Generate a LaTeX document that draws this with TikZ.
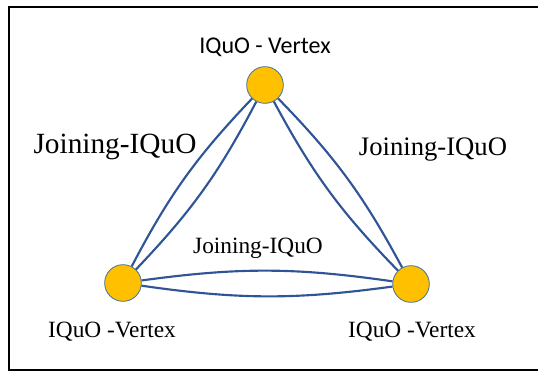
\documentclass[tikz,border=0pt]{standalone}
\usepackage{fontspec}
\setmainfont{Liberation Serif}
\newfontfamily\calibrifont{Carlito}
\usepackage{tikz}
\definecolor{vertexgold}{RGB}{255,192,0}
\definecolor{vertexrim}{RGB}{65,113,156}
\definecolor{jointblue}{RGB}{47,85,151}

\begin{document}
\begin{tikzpicture}[x=0.75pt,y=-0.75pt,
  vertex/.style={circle,draw=vertexrim,line width=0.6pt,fill=vertexgold,minimum size=27.5pt,inner sep=0pt},
  joint/.style={draw=jointblue,line width=1.6pt},
  lbl/.style={anchor=base,inner sep=0pt}]
\useasboundingbox (0,0) rectangle (538,372);
\draw[line width=1.6pt] (538,7) -- (9,7) -- (9,370) -- (538,370);

\node[vertex] (top) at (265,85) {};
\node[vertex] (bl) at (123,283) {};
\node[vertex] (br) at (411,284) {};

\foreach \a/\b in {top/bl,bl/br,br/top} {
 \draw[joint] (\a) to[bend left=8] (\b);
 \draw[joint] (\a) to[bend right=8] (\b);
}

\node[lbl] (ttop) at (265,53) {\calibrifont\fontsize{18}{20}\selectfont IQuO - Vertex};
\node[lbl] (tbl) at (112,337) {\fontsize{17.5}{20}\selectfont IQuO -Vertex};
\node[lbl] (tbr) at (412,337) {\fontsize{17.5}{20}\selectfont IQuO -Vertex};
\node[lbl] (jl) at (115,153) {\fontsize{22}{24}\selectfont Joining-IQuO};
\node[lbl] (jr) at (433,155) {\fontsize{20}{22}\selectfont Joining-IQuO};
\node[lbl] (jm) at (258,253) {\fontsize{17.5}{20}\selectfont Joining-IQuO};
\end{tikzpicture}
\end{document}
